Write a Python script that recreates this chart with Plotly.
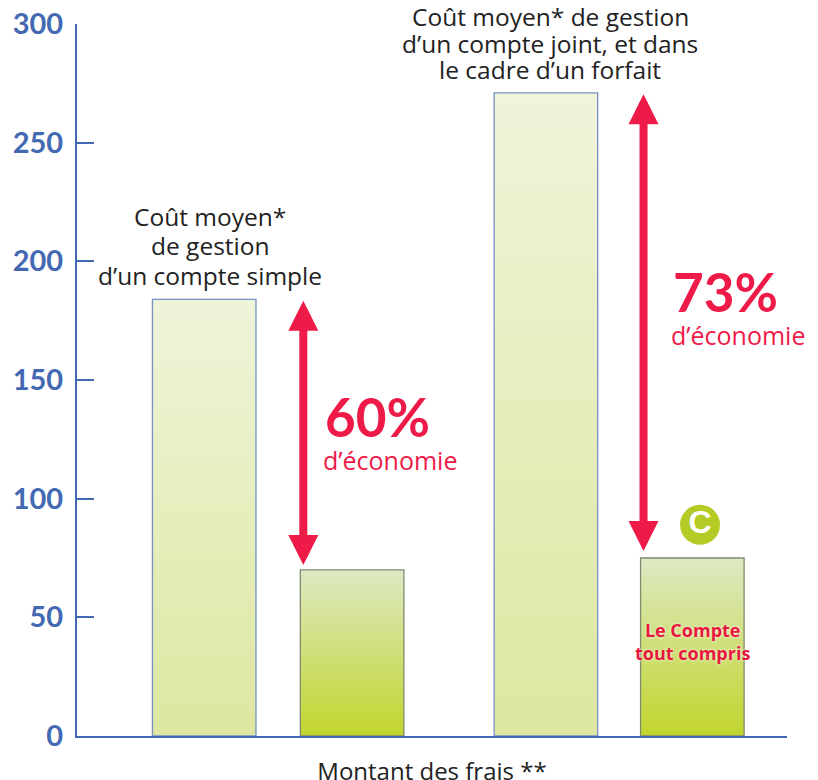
import plotly.graph_objects as go

# ---- data ----
categories = ["Compte simple", "Le Compte tout compris (simple)",
              "Compte joint / forfait", "Le Compte tout compris (joint)"]
values = [184, 70, 271, 75]
savings = ["60%", "73%"]
savings_sub = ["d\u2019économie", "d\u2019économie"]
y_ticks = [0, 50, 100, 150, 200, 250, 300]
label_simple = ["Coût moyen*", "de gestion", "d\u2019un compte simple"]
label_joint = ["Coût moyen* de gestion", "d\u2019un compte joint, et dans", "le cadre d\u2019un forfait"]
label_ctc = "Le Compte<br>tout compris"
x_title = "Montant des frais **"

# ---- layout helpers (positions / styles) ----
positions = [0.86, 1.86, 3.17, 4.16]
bar_w = 0.70
x_max = 4.8
BLUE = "#4469b3"
RED = "#ee1a48"
LIME = "#b5cb25"
light_grad = [[0, "#dde7a0"], [1, "#eff4da"]]
strong_grad = [[0, "#c2d52c"], [1, "#dde9c4"]]
styles = [
    dict(grad=light_grad, line="#7591c6"),
    dict(grad=strong_grad, line="#7f8b6e"),
    dict(grad=light_grad, line="#7591c6"),
    dict(grad=strong_grad, line="#7f8b6e"),
]
FONT = "Open Sans"
NUMFONT = "Lato"

fig = go.Figure()
for cat, v, p, st in zip(categories, values, positions, styles):
    x0, x1 = p - bar_w / 2, p + bar_w / 2
    fig.add_trace(go.Scatter(
        x=[x0, x0, x1, x1, x0], y=[0, v, v, 0, 0],
        mode="lines", fill="toself",
        fillgradient=dict(type="vertical", colorscale=st["grad"], start=0, stop=v),
        line=dict(color=st["line"], width=1.3),
        name=cat, showlegend=False, hoverinfo="skip",
    ))

annotations = []
# double-headed arrows between tall and short bars
for i, (tall, short) in enumerate([(0, 1), (2, 3)]):
    ax_x = positions[short] - bar_w / 2 + 0.02
    gap = 2 if i == 0 else 3
    annotations.append(dict(
        x=ax_x, y=values[short] + gap, ax=ax_x, ay=values[tall],
        xref="x", yref="y", axref="x", ayref="y", text="",
        showarrow=True, arrowside="end+start",
        arrowhead=2, startarrowhead=2, arrowsize=0.75, startarrowsize=0.75,
        arrowwidth=8, arrowcolor=RED, standoff=0, startstandoff=0,
    ))

# savings texts
sav_pos = [(1.66, 134.5, 116.5), (4.015, 187.5, 169)]
for s, sub, (sx, sy, sy2) in zip(savings, savings_sub, sav_pos):
    annotations.append(dict(x=sx, y=sy, xref="x", yref="y", text=f"<b>{s}</b>",
                            showarrow=False, xanchor="left", yanchor="middle",
                            font=dict(family=NUMFONT, size=53, color=RED)))
    annotations.append(dict(x=sx - 0.01, y=sy2, xref="x", yref="y", text=sub,
                            showarrow=False, xanchor="left", yanchor="middle",
                            font=dict(family=FONT, size=25, color=RED)))

# bar descriptions, one annotation per line, placed above the bar top
for line, dy in zip(label_simple, [83, 54, 24]):
    annotations.append(dict(x=0.90, y=values[0], yshift=dy, xref="x", yref="y", text=line,
                            showarrow=False, xanchor="center", yanchor="middle",
                            font=dict(family=FONT, size=24.5, color="#222222")))
for line, dy in zip(label_joint, [76, 49, 23]):
    annotations.append(dict(x=3.20, y=values[2], yshift=dy, xref="x", yref="y", text=line,
                            showarrow=False, xanchor="center", yanchor="middle",
                            font=dict(family=FONT, size=24.5, color="#222222")))
annotations.append(dict(x=positions[3], y=40, xref="x", yref="y", text=f"<b>{label_ctc}</b>",
                        showarrow=False, xanchor="center", yanchor="middle",
                        font=dict(family=FONT, size=18, color="#e8173c",
                                  shadow="0px 0px 3px white")))

# "C" logo
fig.add_trace(go.Scatter(
    x=[4.212], y=[89], mode="markers+text",
    marker=dict(size=40, color=LIME, line=dict(width=0)),
    text=["<b>C</b>"], textposition="middle center",
    textfont=dict(family="Liberation Sans", size=32, color="white"),
    showlegend=False, hoverinfo="skip", cliponaxis=False,
))

# the page adds an 8px body margin, so margins are shifted by 8px
fig.update_layout(
    width=818, height=780,
    margin=dict(l=69, r=39, t=16, b=52),
    plot_bgcolor="white", paper_bgcolor="white",
    annotations=annotations,
    showlegend=False,
)
fig.update_yaxes(
    range=[0, 300], tickvals=y_ticks, ticktext=[str(t) for t in y_ticks],
    showgrid=False, zeroline=False,
    showline=True, linecolor=BLUE, linewidth=2,
    ticks="inside", ticklen=17, tickwidth=2, tickcolor=BLUE,
    ticklabelstandoff=6, automargin=False, ticklabeloverflow="allow",
    tickfont=dict(family=NUMFONT, size=29, color=BLUE, weight="bold"),
)
fig.update_xaxes(
    range=[0, x_max], tickvals=[x_max], ticktext=[""],
    showgrid=False, zeroline=False,
    showline=True, linecolor=BLUE, linewidth=2,
    ticks="inside", ticklen=19, tickwidth=2, tickcolor=BLUE,
    automargin=False,
    title=dict(text=x_title, font=dict(family=FONT, size=24, color="#222222"), standoff=24),
)

fig.write_html("out.html")
